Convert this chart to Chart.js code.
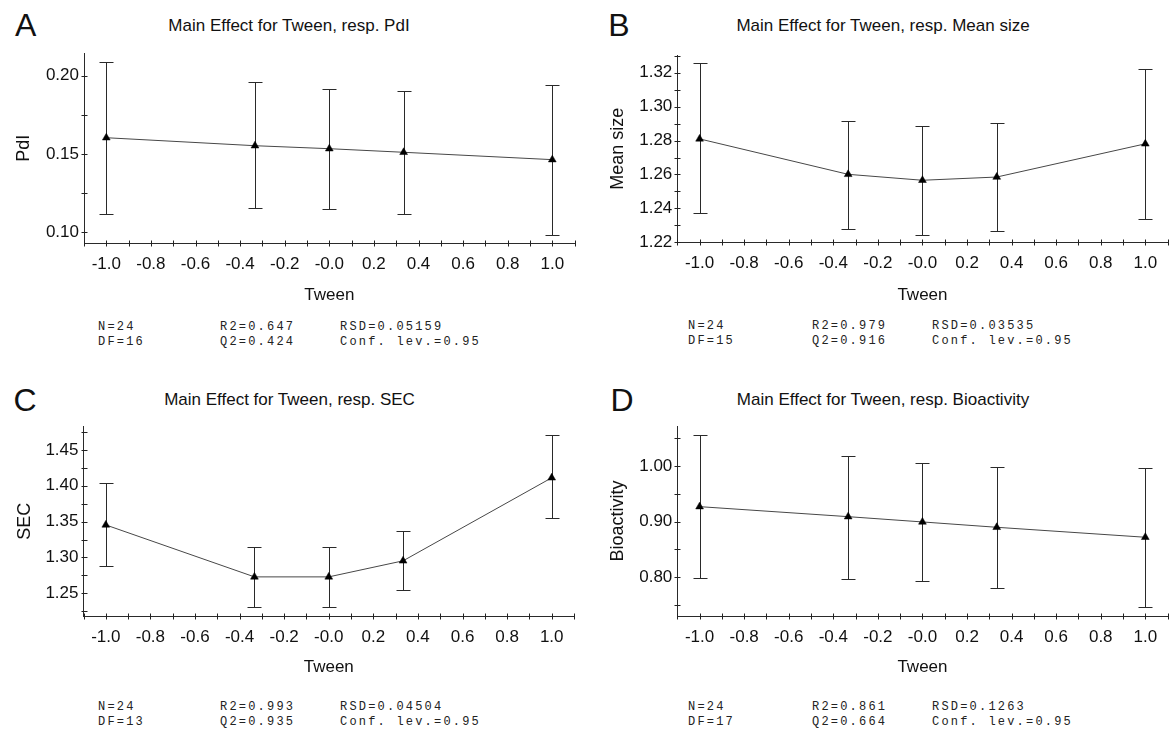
<!DOCTYPE html>
<html>
<head>
<meta charset="utf-8">
<script src="https://cdn.jsdelivr.net/npm/chart.js@4.4.1/dist/chart.umd.min.js"></script>
<style>
  html, body { margin: 0; padding: 0; background: #fff; }
  body { width: 1173px; height: 730px; position: relative; overflow: hidden;
         font-family: "Liberation Sans", Arial, sans-serif; color: #111; }
  canvas { position: absolute; }
  .letter { position: absolute; font-size: 32px; line-height: 32px; }
  .title { position: absolute; font-size: 17px; line-height: 17px; white-space: nowrap; transform: translateX(-50%); }
  .stat { position: absolute; font-family: "Liberation Mono", "Courier New", monospace; font-size: 12px;
          line-height: 15px; letter-spacing: 2.2px; white-space: pre; color: #222; }
</style>
</head>
<body>
<script>
// Factor levels (coded Tween concentration)
const tween = [-1, -0.3333, 0, 0.3333, 1];

// X axis: minor tick every 0.1, label every 0.2
const xTickValues = [-1.1, -1.0, -0.9, -0.8, -0.7, -0.6, -0.5, -0.4, -0.3, -0.2, -0.1, 0,
                     0.1, 0.2, 0.3, 0.4, 0.5, 0.6, 0.7, 0.8, 0.9, 1.0, 1.1];
const xTickLabels = ['', '-1.0', '', '-0.8', '', '-0.6', '', '-0.4', '', '-0.2', '', '-0.0',
                     '', '0.2', '', '0.4', '', '0.6', '', '0.8', '', '1.0', ''];

// Response: PdI
const pdiMean = [0.1604, 0.1553, 0.1534, 0.1511, 0.1464];
const pdiLow  = [0.1119, 0.1157, 0.1149, 0.1115, 0.0983];
const pdiHigh = [0.2087, 0.1958, 0.1915, 0.1904, 0.1939];
const pdiTicks = [0.100, 0.125, 0.150, 0.175, 0.200];
const pdiTickLabels = ['0.10', '', '0.15', '', '0.20'];
const pdiStats = [['N=24', 'R2=0.647', 'RSD=0.05159'], ['DF=16', 'Q2=0.424', 'Conf. lev.=0.95']];

// Response: Mean size
const sizeMean = [1.2810, 1.2601, 1.2566, 1.2585, 1.2781];
const sizeLow  = [1.2370, 1.2276, 1.2243, 1.2268, 1.2337];
const sizeHigh = [1.3259, 1.2916, 1.2887, 1.2905, 1.3225];
const sizeTicks = [1.22, 1.23, 1.24, 1.25, 1.26, 1.27, 1.28, 1.29, 1.30, 1.31, 1.32, 1.33];
const sizeTickLabels = ['1.22', '', '1.24', '', '1.26', '', '1.28', '', '1.30', '', '1.32', ''];
const sizeStats = [['N=24', 'R2=0.979', 'RSD=0.03535'], ['DF=15', 'Q2=0.916', 'Conf. lev.=0.95']];

// Response: SEC
const secMean = [1.3454, 1.2729, 1.2729, 1.2953, 1.4112];
const secLow  = [1.2884, 1.2310, 1.2302, 1.2547, 1.3546];
const secHigh = [1.4038, 1.3144, 1.3144, 1.3367, 1.4709];
const secTicks = [1.225, 1.250, 1.275, 1.300, 1.325, 1.350, 1.375, 1.400, 1.425, 1.450, 1.475];
const secTickLabels = ['', '1.25', '', '1.30', '', '1.35', '', '1.40', '', '1.45', ''];
const secStats = [['N=24', 'R2=0.993', 'RSD=0.04504'], ['DF=13', 'Q2=0.935', 'Conf. lev.=0.95']];

// Response: Bioactivity
const bioMean = [0.9270, 0.9090, 0.8995, 0.8899, 0.8720];
const bioLow  = [0.7980, 0.7975, 0.7934, 0.7808, 0.7461];
const bioHigh = [1.0556, 1.0185, 1.0049, 0.9988, 0.9970];
const bioTicks = [0.75, 0.80, 0.85, 0.90, 0.95, 1.00, 1.05];
const bioTickLabels = ['', '0.80', '', '0.90', '', '1.00', ''];
const bioStats = [['N=24', 'R2=0.861', 'RSD=0.1263'], ['DF=17', 'Q2=0.664', 'Conf. lev.=0.95']];

const panels = [
  { letter: 'A', resp: 'PdI', mean: pdiMean, low: pdiLow, high: pdiHigh,
    yTicks: pdiTicks, yLabels: pdiTickLabels, yMin: 0.093, yMax: 0.2143, stats: pdiStats,
    box: { left: 0, top: 40, width: 586, height: 270 },
    area: { left: 84, right: 574.6, top: 53.3, bottom: 243.3 },
    yTitleX: 24, letterPos: [15, 8.8], titleX: 289, titleTop: 17.3,
    statTop: 320, statCols: [98, 220, 340] },
  { letter: 'B', resp: 'Mean size', mean: sizeMean, low: sizeLow, high: sizeHigh,
    yTicks: sizeTicks, yLabels: sizeTickLabels, yMin: 1.22, yMax: 1.3305, stats: sizeStats,
    box: { left: 586, top: 40, width: 587, height: 270 },
    area: { left: 677.3, right: 1167.6, top: 55, bottom: 242.3 },
    yTitleX: 618, letterPos: [608.3, 8.8], titleX: 883, titleTop: 17.3,
    statTop: 318.6, statCols: [688, 812, 932] },
  { letter: 'C', resp: 'SEC', mean: secMean, low: secLow, high: secHigh,
    yTicks: secTicks, yLabels: secTickLabels, yMin: 1.2183, yMax: 1.4825, stats: secStats,
    box: { left: 0, top: 412, width: 586, height: 270 },
    area: { left: 83.5, right: 574, top: 426.7, bottom: 616 },
    yTitleX: 25, letterPos: [13.4, 384.1], titleX: 289.5, titleTop: 390.6,
    statTop: 700, statCols: [98, 220, 340] },
  { letter: 'D', resp: 'Bioactivity', mean: bioMean, low: bioLow, high: bioHigh,
    yTicks: bioTicks, yLabels: bioTickLabels, yMin: 0.7305, yMax: 1.0719, stats: bioStats,
    box: { left: 586, top: 412, width: 587, height: 270 },
    area: { left: 677.3, right: 1167.6, top: 426, bottom: 616 },
    yTitleX: 618, letterPos: [610.5, 384.1], titleX: 883, titleTop: 390.6,
    statTop: 700, statCols: [688, 812, 932] }
];

Chart.defaults.font.family = '"Liberation Sans", Arial, sans-serif';
Chart.defaults.color = '#111';

// Vertical confidence bars with caps, drawn under the markers
const errorBars = {
  id: 'errorBars',
  beforeDatasetsDraw(chart) {
    const { ctx, scales: { x, y } } = chart;
    const ds = chart.data.datasets[0];
    ctx.save();
    ctx.strokeStyle = '#2a2a2a';
    ctx.lineWidth = 1;
    ctx.beginPath();
    ds.data.forEach((p, i) => {
      const px = Math.round(x.getPixelForValue(p.x)) + 0.5;
      const yl = Math.round(y.getPixelForValue(ds.errLow[i])) + 0.5;
      const yh = Math.round(y.getPixelForValue(ds.errHigh[i])) + 0.5;
      ctx.moveTo(px, yl); ctx.lineTo(px, yh);
      ctx.moveTo(px - 7, yl); ctx.lineTo(px + 7, yl);
      ctx.moveTo(px - 7, yh); ctx.lineTo(px + 7, yh);
    });
    ctx.stroke();
    ctx.restore();
  }
};

// Short tick marks crossing both axis lines
const crossTicks = {
  id: 'crossTicks',
  afterDraw(chart) {
    const { ctx, chartArea: a, scales: { x, y } } = chart;
    ctx.save();
    ctx.strokeStyle = '#222';
    ctx.lineWidth = 1;
    ctx.beginPath();
    const by = Math.round(a.bottom) + 0.5;
    x.ticks.forEach(t => {
      const px = Math.round(x.getPixelForValue(t.value)) + 0.5;
      ctx.moveTo(px, by - 3); ctx.lineTo(px, by + 3);
    });
    const lx = Math.round(a.left) + 0.5;
    y.ticks.forEach(t => {
      const py = Math.round(y.getPixelForValue(t.value)) + 0.5;
      ctx.moveTo(lx - 3, py); ctx.lineTo(lx + 3, py);
    });
    ctx.stroke();
    ctx.restore();
  }
};

function addText(cls, text, left, top) {
  const d = document.createElement('div');
  d.className = cls;
  d.textContent = text;
  d.style.left = left + 'px';
  d.style.top = top + 'px';
  document.body.appendChild(d);
  return d;
}

panels.forEach(p => {
  addText('letter', p.letter, p.letterPos[0], p.letterPos[1]);
  addText('title', 'Main Effect for Tween, resp. ' + p.resp, p.titleX, p.titleTop);
  p.stats.forEach((row, r) => {
    row.forEach((txt, c) => addText('stat', txt, p.statCols[c], p.statTop + r * 15));
  });

  const cv = document.createElement('canvas');
  cv.width = p.box.width;
  cv.height = p.box.height;
  cv.style.left = p.box.left + 'px';
  cv.style.top = p.box.top + 'px';
  cv.style.width = p.box.width + 'px';
  cv.style.height = p.box.height + 'px';
  document.body.appendChild(cv);

  const yAxisWidth = p.area.left - p.box.left;
  const xAxisHeight = p.box.top + p.box.height - p.area.bottom;

  new Chart(cv, {
    type: 'scatter',
    data: {
      datasets: [{
        data: tween.map((x, i) => ({ x, y: p.mean[i] })),
        errLow: p.low,
        errHigh: p.high,
        showLine: true,
        tension: 0,
        borderColor: '#474747',
        borderWidth: 1,
        pointStyle: 'triangle',
        pointRadius: 4.5,
        pointBackgroundColor: '#000',
        pointBorderColor: '#000',
        pointBorderWidth: 0.5,
        clip: false
      }]
    },
    options: {
      responsive: false,
      animation: false,
      events: [],
      layout: {
        padding: {
          top: p.area.top - p.box.top,
          right: p.box.left + p.box.width - p.area.right,
          left: 0,
          bottom: 0
        }
      },
      plugins: { legend: { display: false }, tooltip: { enabled: false }, title: { display: false } },
      scales: {
        x: {
          type: 'linear',
          position: 'bottom',
          min: -1.1,
          max: 1.1,
          afterBuildTicks: s => { s.ticks = xTickValues.map(v => ({ value: v })); },
          afterFit: s => {
            s.height = xAxisHeight;
            s.paddingLeft = 0; s.paddingRight = 0; s.paddingTop = 0; s.paddingBottom = 0;
          },
          grid: { display: true, drawOnChartArea: false, drawTicks: false },
          border: { display: true, color: '#2a2a2a', width: 1 },
          ticks: {
            autoSkip: false, maxRotation: 0, minRotation: 0, padding: 11,
            font: { size: 17 }, color: '#111',
            callback: (v, i) => xTickLabels[i]
          },
          title: { display: true, text: 'Tween', font: { size: 17 }, color: '#111',
                   padding: { top: 0, bottom: 4.8 } }
        },
        y: {
          type: 'linear',
          position: 'left',
          min: p.yMin,
          max: p.yMax,
          afterBuildTicks: s => { s.ticks = p.yTicks.map(v => ({ value: v })); },
          afterFit: s => {
            s.width = yAxisWidth;
            s.paddingLeft = 0; s.paddingRight = 0; s.paddingTop = 0; s.paddingBottom = 0;
          },
          grid: { display: true, drawOnChartArea: false, drawTicks: false },
          border: { display: true, color: '#2a2a2a', width: 1 },
          ticks: {
            autoSkip: false, padding: 5,
            font: { size: 17 }, color: '#111',
            callback: (v, i) => p.yLabels[i]
          },
          title: { display: true, text: p.resp, font: { size: 18 }, color: '#111',
                   padding: { top: p.yTitleX - p.box.left - 10.8, bottom: 0 } }
        }
      }
    },
    plugins: [errorBars, crossTicks]
  });
});
</script>
</body>
</html>
